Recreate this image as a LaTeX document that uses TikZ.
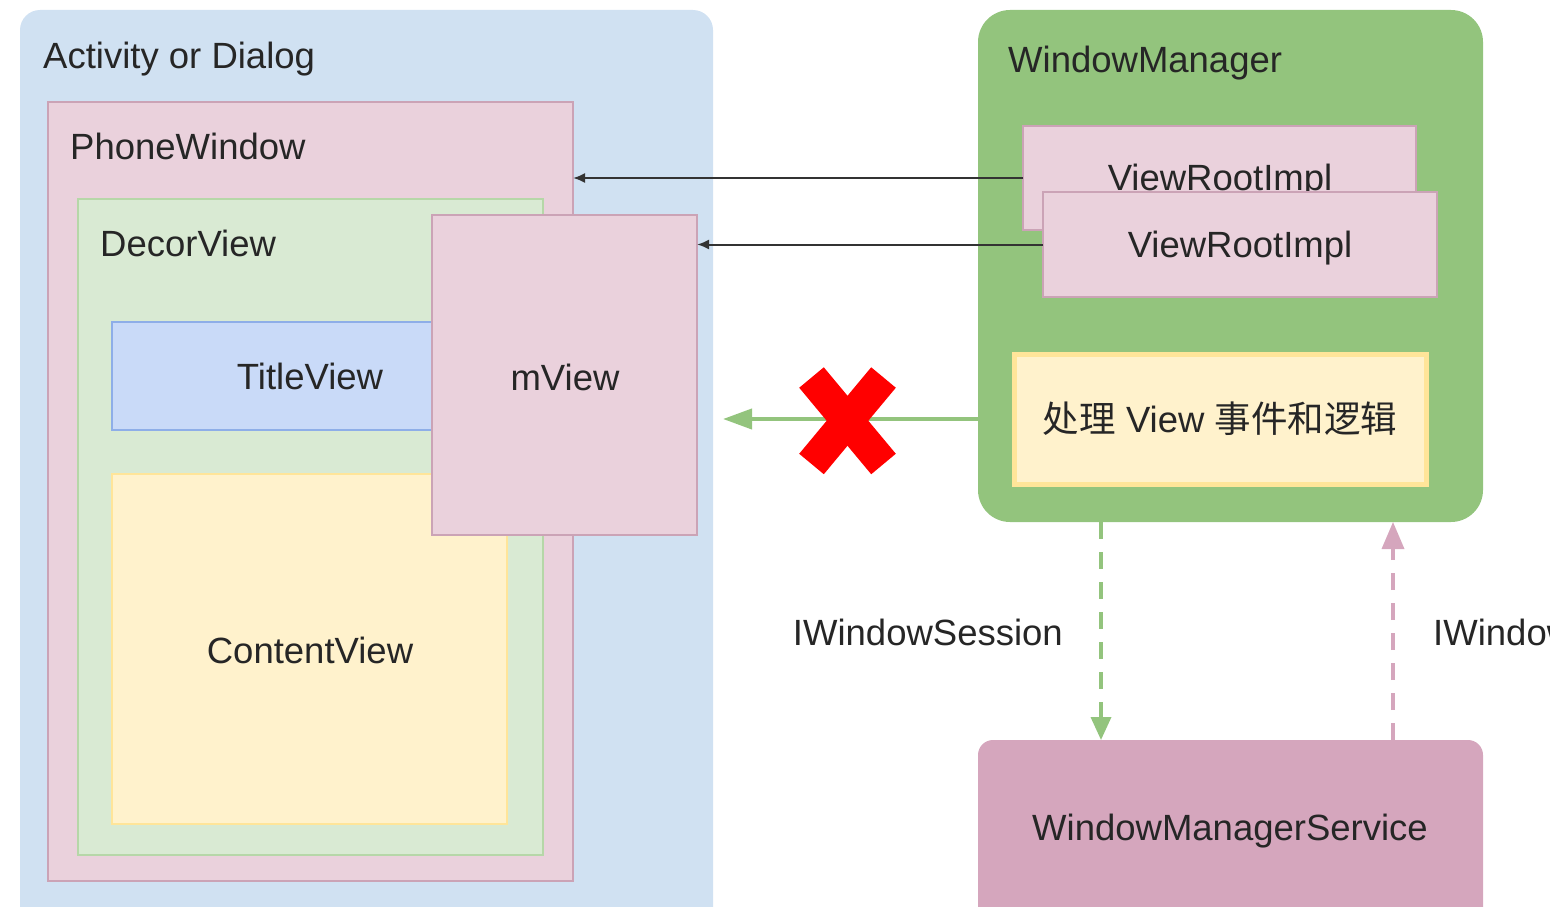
\documentclass[tikz,border=0pt]{standalone}
\usepackage{fontspec}
\setmainfont{Liberation Sans}
\newfontfamily\cjk{Noto Sans CJK SC}
\usetikzlibrary{arrows.meta}
\definecolor{bgblue}{HTML}{D0E1F2}
\definecolor{pinkfill}{HTML}{EAD1DC}
\definecolor{pinkline}{HTML}{CBA3B6}
\definecolor{greenfill}{HTML}{D9EAD3}
\definecolor{greenline}{HTML}{B6D7A8}
\definecolor{bluefill}{HTML}{C9DAF8}
\definecolor{blueline}{HTML}{8EAEE8}
\definecolor{yellowfill}{HTML}{FFF2CC}
\definecolor{yellowline}{HTML}{FFE599}
\definecolor{wmgreen}{HTML}{93C47D}
\definecolor{wmspink}{HTML}{D5A6BD}
\definecolor{txt}{HTML}{262626}
\definecolor{arrowdark}{HTML}{333333}
\begin{document}
\begin{tikzpicture}[x=1pt,y=-1pt,
  box/.style={anchor=north west, inner sep=0pt, outer sep=0pt},
  lbl/.style={font=\fontsize{36.5}{40}\selectfont, text=txt, inner sep=0pt, anchor=base west},
  clbl/.style={font=\fontsize{36.5}{40}\selectfont, text=txt, inner sep=0pt, anchor=base},
  blackarrow/.style={draw=arrowdark, line width=2pt, -{Latex[length=12pt,width=10pt]}},
  dasharrow/.style={line width=3.5pt, dash pattern=on 17pt off 13pt}
]
\useasboundingbox (0,0) rectangle (1550,907);
\clip (0,0) rectangle (1550,907);

% Activity or Dialog
\node[box, fill=bgblue, rounded corners=20pt, minimum width=693pt, minimum height=940pt] (act) at (20,10) {};
\node[lbl] (actl) at (43,68) {Activity or Dialog};

% PhoneWindow
\node[box, fill=pinkfill, draw=pinkline, line width=2pt, minimum width=525pt, minimum height=779pt] (pw) at (48,102) {};
\node[lbl] (pwl) at (70,159) {PhoneWindow};

% DecorView
\node[box, fill=greenfill, draw=greenline, line width=2pt, minimum width=465pt, minimum height=656pt] (dv) at (78,199) {};
\node[lbl] (dvl) at (100,256) {DecorView};

% TitleView
\node[box, fill=bluefill, draw=blueline, line width=2pt, minimum width=330pt, minimum height=108pt] (tv) at (112,322) {};
\node[clbl] (tvl) at (310,389) {TitleView};

% ContentView
\node[box, fill=yellowfill, draw=yellowline, line width=2pt, minimum width=395pt, minimum height=350pt] (cv) at (112,474) {};
\node[clbl] (cvl) at (310,663) {ContentView};

% mView
\node[box, fill=pinkfill, draw=pinkline, line width=2pt, minimum width=265pt, minimum height=320pt] (mv) at (432,215) {};
\node[clbl] (mvl) at (565,390) {mView};

% WindowManager
\node[box, fill=wmgreen, rounded corners=32pt, minimum width=505pt, minimum height=512pt] (wm) at (978,10) {};
\node[lbl] (wml) at (1008,73) {WindowManager};

% ViewRootImpl boxes
\node[box, fill=pinkfill, draw=pinkline, line width=2pt, minimum width=393pt, minimum height=104pt] (vr1) at (1023,126) {};
\node[clbl] (vr1l) at (1220,190) {ViewRootImpl};
\node[box, fill=pinkfill, draw=pinkline, line width=2pt, minimum width=394pt, minimum height=105pt] (vr2) at (1043,192) {};
\node[clbl] (vr2l) at (1240,257) {ViewRootImpl};

% Yellow logic box
\node[box, fill=yellowfill, draw=yellowline, line width=5pt, minimum width=412pt, minimum height=130pt] (yl) at (1014,354) {};
\node[clbl] (yll) at (1220,432) {{\cjk 处理} View {\cjk 事件和逻辑}};

% WindowManagerService
\node[box, fill=wmspink, rounded corners=15pt, minimum width=505pt, minimum height=200pt] (wms) at (978,740) {};
\node[clbl] (wmsl) at (1230,840) {WindowManagerService};

% black arrows
\draw[blackarrow] (vr1.west) -- (vr1.west -| pw.east);
\draw[blackarrow] (vr2.west) -- (vr2.west -| mv.east);

% green arrow (blocked)
\coordinate (gtipx) at (723,0);
\draw[draw=wmgreen, line width=4pt, -{Triangle[length=29pt,width=20pt]}] (yl.west -| wm.west) -- (yl.west -| gtipx);

% red X
\draw[red, line width=32pt] (811.5,377.5) -- (883.5,464);
\draw[red, line width=32pt] (883.5,377.5) -- (811.5,464);

% dashed arrows
\coordinate (dx1) at (1101,0);
\coordinate (dx2) at (1393,0);
\draw[dasharrow, draw=wmgreen, -{Triangle[length=23pt,width=20pt]}] (dx1 |- wm.south) -- (dx1 |- wms.north);
\draw[dasharrow, draw=wmspink, -{Triangle[length=27pt,width=22pt]}] (dx2 |- wms.north) -- (dx2 |- wm.south);

\node[lbl, anchor=base east] (iws) at (1063,645) {IWindowSession};
\node[lbl] (iw) at (1433,645) {IWindow};
\end{tikzpicture}
\end{document}
